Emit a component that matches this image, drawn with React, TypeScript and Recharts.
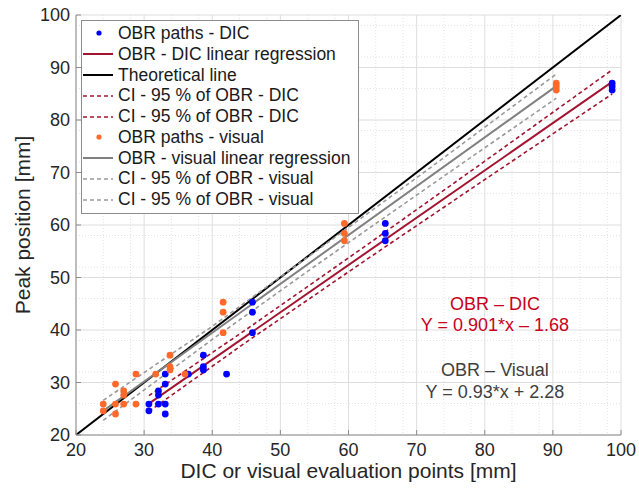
import {
  ComposedChart,
  Scatter,
  Line,
  XAxis,
  YAxis,
  CartesianGrid,
  ReferenceDot,
} from "recharts";

const FONT = "'Liberation Sans', Arial, sans-serif";

const RED = "#a2142f";
const RED_TEXT = "#c8001e";
const BLUE = "#0000ff";
const ORANGE = "#ff6929";
const GREY = "#808080";
const GREY_CI = "#9a9a9a";

const axisTicks = [20, 30, 40, 50, 60, 70, 80, 90, 100];

// OBR peak positions against DIC evaluation points
const dicX = [30.7, 30.7, 32.1, 32.1, 32.1, 33.1, 33.1, 33.1, 33.1, 36.5, 38.7, 38.7, 38.7, 42.1, 45.9, 45.9, 45.9, 65.4, 65.4, 65.4, 98.7, 98.7, 98.7];
const dicY = [25.9, 24.6, 28.4, 27.6, 25.9, 31.6, 29.7, 25.9, 24.0, 31.6, 35.2, 33.0, 32.4, 31.6, 45.3, 43.4, 39.5, 60.3, 58.4, 57.0, 87.0, 86.4, 85.7];

// OBR peak positions against visual evaluation points
const visX = [24.0, 24.0, 25.8, 25.8, 25.8, 27.0, 27.0, 27.0, 28.8, 28.8, 31.7, 33.8, 33.8, 33.8, 36.0, 41.6, 41.6, 41.6, 59.4, 59.4, 59.4, 90.5, 90.5, 90.5];
const visY = [25.9, 24.6, 29.7, 25.9, 24.0, 28.4, 27.6, 25.9, 31.6, 25.9, 31.6, 35.2, 33.0, 32.4, 31.6, 45.3, 43.4, 39.5, 60.3, 58.4, 57.0, 87.0, 86.4, 85.7];

// regression fits (slope, intercept, x range)
const dicFit = { slope: 0.901, intercept: -1.68, from: 30.7, to: 98.7 };
const visFit = { slope: 0.93, intercept: 2.28, from: 24.0, to: 90.5 };

// 95 % confidence bounds
const dicCiX = [30.7, 45, 62, 80, 98.7];
const dicCiUpper = [27.5, 40.1, 55.55, 72.15, 89.55];
const dicCiLower = [24.5, 37.7, 52.85, 68.65, 84.95];
const visCiX = [24.0, 40, 55, 72, 90.5];
const visCiUpper = [26.6, 40.7, 54.8, 70.9, 88.75];
const visCiLower = [22.8, 38.2, 52.1, 67.5, 84.15];

const theoreticalX = [20, 100];

const zip = (xs: number[], ys: number[]) => xs.map((x, i) => ({ x, y: ys[i] }));
const fitLine = (f: { slope: number; intercept: number; from: number; to: number }) =>
  [f.from, f.to].map((x) => ({ x, y: f.slope * x + f.intercept }));

const dicPoints = zip(dicX, dicY);
const visPoints = zip(visX, visY);
const dicLine = fitLine(dicFit);
const visLine = fitLine(visFit);
const theoretical = zip(theoreticalX, theoreticalX);

const minorTicks: number[] = [];
for (let v = 22; v < 100; v += 2) if (v % 10 !== 0) minorTicks.push(v);

type LegendItem = { label: string; kind: "dot" | "solid" | "dash"; color: string };
const legendItems: LegendItem[] = [
  { label: "OBR paths - DIC", kind: "dot", color: BLUE },
  { label: "OBR - DIC linear regression", kind: "solid", color: RED },
  { label: "Theoretical line", kind: "solid", color: "#000" },
  { label: "CI - 95 % of OBR - DIC", kind: "dash", color: RED },
  { label: "CI - 95 % of OBR - DIC", kind: "dash", color: RED },
  { label: "OBR paths - visual", kind: "dot", color: ORANGE },
  { label: "OBR - visual linear regression", kind: "solid", color: GREY },
  { label: "CI - 95 % of OBR - visual", kind: "dash", color: GREY_CI },
  { label: "CI - 95 % of OBR - visual", kind: "dash", color: GREY_CI },
];

function ChartLegend() {
  return (
    <div
      style={{
        position: "absolute",
        left: 81,
        top: 20,
        width: 276,
        padding: "2px 0 3px",
        background: "#fff",
        border: "1px solid #8c8c8c",
        fontFamily: FONT,
        fontSize: 17.5,
        color: "#1a1a1a",
      }}
    >
      {legendItems.map((item, i) => (
        <div key={i} style={{ display: "flex", alignItems: "center", height: 20.8, whiteSpace: "nowrap" }}>
          <svg width={34} height={12} style={{ flex: "none" }}>
            {item.kind === "dot" ? (
              <circle cx={17} cy={6} r={2.6} fill={item.color} />
            ) : (
              <line
                x1={1}
                x2={31}
                y1={6}
                y2={6}
                stroke={item.color}
                strokeWidth={item.kind === "dash" ? 1.5 : 2}
                strokeDasharray={item.kind === "dash" ? "4 3" : undefined}
              />
            )}
          </svg>
          <span style={{ marginLeft: 2 }}>{item.label}</span>
        </div>
      ))}
    </div>
  );
}

const tickStyle = { fill: "#262626", fontSize: 18, fontFamily: FONT };

export default function App() {
  return (
    <div style={{ position: "absolute", left: 0, top: 0, width: 639, height: 493, background: "#fff" }}>
      <ComposedChart width={639} height={493} margin={{ top: 15, right: 18, bottom: 8, left: 8 }}>
        <CartesianGrid
          verticalValues={minorTicks}
          horizontalValues={minorTicks}
          stroke="#e3e3e3"
          strokeDasharray="1 2"
          fill="none"
        />
        <CartesianGrid verticalValues={axisTicks} horizontalValues={axisTicks} stroke="#dedede" fill="none" />

        <XAxis
          type="number"
          dataKey="x"
          domain={[20, 100]}
          ticks={axisTicks}
          allowDataOverflow
          height={50}
          stroke="#8c8c8c"
          tickSize={-5}
          tickMargin={13}
          tick={tickStyle}
          label={(p: any) => (
            <text
              x={p.viewBox.x + p.viewBox.width / 2}
              y={p.viewBox.y + 43}
              textAnchor="middle"
              fontSize={21}
              fontFamily={FONT}
              fill="#262626"
            >
              DIC or visual evaluation points [mm]
            </text>
          )}
        />
        <XAxis
          xAxisId="top"
          orientation="top"
          type="number"
          domain={[20, 100]}
          ticks={axisTicks}
          allowDataOverflow
          height={0}
          stroke="#8c8c8c"
          tickSize={-5}
          tick={false}
        />
        <YAxis
          type="number"
          dataKey="y"
          domain={[20, 100]}
          ticks={axisTicks}
          allowDataOverflow
          width={68}
          stroke="#8c8c8c"
          tickSize={-5}
          tickMargin={11}
          tick={tickStyle}
          label={(p: any) => {
            const cx = p.viewBox.x + 14;
            const cy = p.viewBox.y + p.viewBox.height / 2;
            return (
              <text
                x={cx}
                y={cy}
                transform={`rotate(-90 ${cx} ${cy})`}
                textAnchor="middle"
                dominantBaseline="central"
                fontSize={21}
                fontFamily={FONT}
                fill="#262626"
              >
                Peak position [mm]
              </text>
            );
          }}
        />
        <YAxis
          yAxisId="right"
          orientation="right"
          type="number"
          domain={[20, 100]}
          ticks={axisTicks}
          allowDataOverflow
          width={0}
          stroke="#8c8c8c"
          tickSize={-5}
          tick={false}
        />

        <Scatter data={dicPoints} fill={BLUE} shape={(p: any) => <circle cx={p.cx} cy={p.cy} r={3.4} fill={BLUE} />} isAnimationActive={false} />
        <Line data={dicLine} dataKey="y" type="linear" stroke={RED} strokeWidth={2} dot={false} activeDot={false} isAnimationActive={false} />
        <Line data={theoretical} dataKey="y" type="linear" stroke="#000" strokeWidth={2} dot={false} activeDot={false} isAnimationActive={false} />
        <Line data={zip(dicCiX, dicCiUpper)} dataKey="y" type="linear" stroke={RED} strokeWidth={1.6} strokeDasharray="4 3" dot={false} activeDot={false} isAnimationActive={false} />
        <Line data={zip(dicCiX, dicCiLower)} dataKey="y" type="linear" stroke={RED} strokeWidth={1.6} strokeDasharray="4 3" dot={false} activeDot={false} isAnimationActive={false} />
        <Scatter data={visPoints} fill={ORANGE} shape={(p: any) => <circle cx={p.cx} cy={p.cy} r={3.4} fill={ORANGE} />} isAnimationActive={false} />
        <Line data={visLine} dataKey="y" type="linear" stroke={GREY} strokeWidth={2} dot={false} activeDot={false} isAnimationActive={false} />
        <Line data={zip(visCiX, visCiUpper)} dataKey="y" type="linear" stroke={GREY_CI} strokeWidth={1.6} strokeDasharray="4 3" dot={false} activeDot={false} isAnimationActive={false} />
        <Line data={zip(visCiX, visCiLower)} dataKey="y" type="linear" stroke={GREY_CI} strokeWidth={1.6} strokeDasharray="4 3" dot={false} activeDot={false} isAnimationActive={false} />

        <ReferenceDot x={81.5} y={45.1} r={1} fill="none" stroke="none" label={{ value: "OBR – DIC", position: "center", fill: RED_TEXT, fontSize: 18, fontFamily: FONT }} />
        <ReferenceDot x={81.5} y={41.0} r={1} fill="none" stroke="none" label={{ value: `Y = ${dicFit.slope}*x – ${Math.abs(dicFit.intercept)}`, position: "center", fill: RED_TEXT, fontSize: 18, fontFamily: FONT }} />
        <ReferenceDot x={81.5} y={32.4} r={1} fill="none" stroke="none" label={{ value: "OBR – Visual", position: "center", fill: "#404040", fontSize: 18, fontFamily: FONT }} />
        <ReferenceDot x={81.5} y={28.2} r={1} fill="none" stroke="none" label={{ value: `Y = ${visFit.slope}*x + ${visFit.intercept}`, position: "center", fill: "#404040", fontSize: 18, fontFamily: FONT }} />
      </ComposedChart>
      <ChartLegend />
    </div>
  );
}
